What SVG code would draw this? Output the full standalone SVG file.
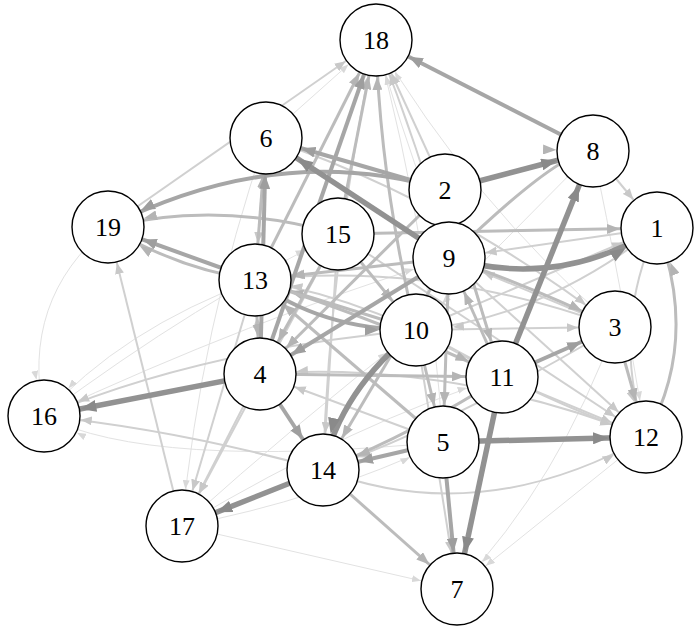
<svg xmlns="http://www.w3.org/2000/svg" width="700" height="631" viewBox="0 0 700 631">
<style>
.e1{fill:none;stroke:#e2e2e2;stroke-width:1;marker-end:url(#a1)}
.e2{fill:none;stroke:#d0d0d0;stroke-width:2;marker-end:url(#a2)}
.e3{fill:none;stroke:#bcbcbc;stroke-width:3;marker-end:url(#a3)}
.e4{fill:none;stroke:#a6a6a6;stroke-width:4;marker-end:url(#a4)}
.e5{fill:none;stroke:#929292;stroke-width:5.5;marker-end:url(#a5)}
.node circle{fill:#fff;stroke:#000;stroke-width:1.4}
.node text{font-family:"Liberation Serif","Times New Roman",serif;font-size:26px;fill:#000;text-anchor:middle}
</style>
<defs>
<marker id="a1" markerUnits="userSpaceOnUse" viewBox="0 0 9 7" markerWidth="9" markerHeight="7" refX="46" refY="3.5" orient="auto"><path d="M0,0 L9,3.5 L0,7 z" fill="#d8d8d8"/></marker>
<marker id="a2" markerUnits="userSpaceOnUse" viewBox="0 0 11 9" markerWidth="11" markerHeight="9" refX="48" refY="4.5" orient="auto"><path d="M0,0 L11,4.5 L0,9 z" fill="#c8c8c8"/></marker>
<marker id="a3" markerUnits="userSpaceOnUse" viewBox="0 0 13 10" markerWidth="13" markerHeight="10" refX="50" refY="5" orient="auto"><path d="M0,0 L13,5 L0,10 z" fill="#b4b4b4"/></marker>
<marker id="a4" markerUnits="userSpaceOnUse" viewBox="0 0 14 11" markerWidth="14" markerHeight="11" refX="51" refY="5.5" orient="auto"><path d="M0,0 L14,5.5 L0,11 z" fill="#9e9e9e"/></marker>
<marker id="a5" markerUnits="userSpaceOnUse" viewBox="0 0 16 12" markerWidth="16" markerHeight="12" refX="53" refY="6" orient="auto"><path d="M0,0 L16,6 L0,12 z" fill="#8a8a8a"/></marker>
</defs>
<g id="connectors">
<path class="e1" d="M266 138 L376 40"/>
<path class="e1" d="M502 377 Q420 200 376 40"/>
<path class="e1" d="M443 442 Q430 240 376 40"/>
<path class="e1" d="M615 327 Q470 200 376 40"/>
<path class="e1" d="M593 151 Q620 280 646 437"/>
<path class="e1" d="M443 442 Q150 470 44 416"/>
<path class="e1" d="M255 280 Q120 330 44 416"/>
<path class="e1" d="M108 227 Q20 300 44 416"/>
<path class="e1" d="M182 526 L457 589"/>
<path class="e1" d="M266 138 Q200 330 182 526"/>
<path class="e1" d="M646 437 L457 589"/>
<path class="e1" d="M44 416 Q200 300 338 234"/>
<path class="e1" d="M44 416 Q250 320 449 258"/>
<path class="e1" d="M182 526 Q300 420 416 330"/>
<path class="e1" d="M182 526 Q320 500 443 442"/>
<path class="e1" d="M615 327 Q560 480 457 589"/>
<path class="e1" d="M182 526 Q360 420 502 377"/>
<path class="e1" d="M593 151 L416 330"/>
<path class="e2" d="M108 227 L376 40"/>
<path class="e2" d="M449 258 Q420 150 376 40"/>
<path class="e2" d="M445 190 L376 40"/>
<path class="e2" d="M323 470 Q330 250 376 40"/>
<path class="e2" d="M182 526 L108 227"/>
<path class="e2" d="M416 330 Q200 350 44 416"/>
<path class="e2" d="M323 470 Q180 430 44 416"/>
<path class="e2" d="M255 280 L182 526"/>
<path class="e2" d="M260 374 L182 526"/>
<path class="e2" d="M338 234 L182 526"/>
<path class="e2" d="M266 138 L255 280"/>
<path class="e2" d="M260 374 L255 280"/>
<path class="e2" d="M593 151 L657 228"/>
<path class="e2" d="M657 228 Q610 330 646 437"/>
<path class="e2" d="M502 377 L646 437"/>
<path class="e2" d="M323 470 Q480 530 646 437"/>
<path class="e2" d="M416 330 L615 327"/>
<path class="e2" d="M416 330 L457 589"/>
<path class="e2" d="M416 330 L657 228"/>
<path class="e2" d="M502 377 L445 190"/>
<path class="e2" d="M657 228 L449 258"/>
<path class="e2" d="M338 234 L646 437"/>
<path class="e2" d="M449 258 L646 437"/>
<path class="e2" d="M615 327 L449 258"/>
<path class="e2" d="M338 234 L323 470"/>
<path class="e2" d="M502 377 Q380 300 255 280"/>
<path class="e2" d="M615 327 Q430 260 255 280"/>
<path class="e2" d="M646 437 Q450 360 260 374"/>
<path class="e2" d="M615 327 Q460 420 323 470"/>
<path class="e2" d="M657 228 Q540 320 416 330"/>
<path class="e2" d="M443 442 L260 374"/>
<path class="e2" d="M416 330 Q540 400 646 437"/>
<path class="e2" d="M266 138 Q450 200 615 327"/>
<path class="e3" d="M255 280 L376 40"/>
<path class="e3" d="M338 234 L376 40"/>
<path class="e3" d="M416 330 Q380 180 376 40"/>
<path class="e3" d="M338 234 Q220 200 108 227"/>
<path class="e3" d="M449 258 Q560 150 593 151"/>
<path class="e3" d="M449 258 Q540 290 615 327"/>
<path class="e3" d="M449 258 L255 280"/>
<path class="e3" d="M338 234 L657 228"/>
<path class="e3" d="M502 377 L449 258"/>
<path class="e3" d="M646 437 Q700 340 657 228"/>
<path class="e3" d="M615 327 L646 437"/>
<path class="e3" d="M323 470 L457 589"/>
<path class="e3" d="M260 374 L502 377"/>
<path class="e3" d="M255 280 L260 374"/>
<path class="e3" d="M416 330 L255 280"/>
<path class="e3" d="M416 330 L443 442"/>
<path class="e3" d="M255 280 L266 138"/>
<path class="e3" d="M338 234 L416 330"/>
<path class="e3" d="M449 258 L323 470"/>
<path class="e3" d="M445 190 L260 374"/>
<path class="e3" d="M255 280 Q380 320 502 377"/>
<path class="e3" d="M338 234 L260 374"/>
<path class="e3" d="M443 442 L255 280"/>
<path class="e3" d="M502 377 Q420 430 323 470"/>
<path class="e3" d="M449 258 L443 442"/>
<path class="e3" d="M445 190 L502 377"/>
<path class="e3" d="M255 280 Q180 270 108 227"/>
<path class="e4" d="M260 374 L376 40"/>
<path class="e4" d="M593 151 L376 40"/>
<path class="e4" d="M445 190 L266 138"/>
<path class="e4" d="M445 190 Q280 140 108 227"/>
<path class="e4" d="M255 280 L108 227"/>
<path class="e4" d="M502 377 L615 327"/>
<path class="e4" d="M443 442 L457 589"/>
<path class="e4" d="M443 442 L323 470"/>
<path class="e4" d="M260 374 L323 470"/>
<path class="e4" d="M260 374 L266 138"/>
<path class="e4" d="M449 258 L260 374"/>
<path class="e4" d="M255 280 Q320 330 416 330"/>
<path class="e5" d="M445 190 L593 151"/>
<path class="e5" d="M449 258 L266 138"/>
<path class="e5" d="M449 258 Q560 290 657 228"/>
<path class="e5" d="M502 377 L593 151"/>
<path class="e5" d="M502 377 L457 589"/>
<path class="e5" d="M443 442 L646 437"/>
<path class="e5" d="M323 470 L182 526"/>
<path class="e5" d="M260 374 L44 416"/>
<path class="e5" d="M416 330 Q340 390 323 470"/>
</g>
<g id="node-18" class="node"><circle cx="376" cy="40" r="36"/><text x="376" y="49">18</text></g>
<g id="node-6" class="node"><circle cx="266" cy="138" r="36"/><text x="266" y="147">6</text></g>
<g id="node-8" class="node"><circle cx="593" cy="151" r="36"/><text x="593" y="160">8</text></g>
<g id="node-2" class="node"><circle cx="445" cy="190" r="36"/><text x="445" y="199">2</text></g>
<g id="node-19" class="node"><circle cx="108" cy="227" r="36"/><text x="108" y="236">19</text></g>
<g id="node-1" class="node"><circle cx="657" cy="228" r="36"/><text x="657" y="237">1</text></g>
<g id="node-15" class="node"><circle cx="338" cy="234" r="36"/><text x="338" y="243">15</text></g>
<g id="node-9" class="node"><circle cx="449" cy="258" r="36"/><text x="449" y="267">9</text></g>
<g id="node-13" class="node"><circle cx="255" cy="280" r="36"/><text x="255" y="289">13</text></g>
<g id="node-10" class="node"><circle cx="416" cy="330" r="36"/><text x="416" y="339">10</text></g>
<g id="node-3" class="node"><circle cx="615" cy="327" r="36"/><text x="615" y="336">3</text></g>
<g id="node-4" class="node"><circle cx="260" cy="374" r="36"/><text x="260" y="383">4</text></g>
<g id="node-11" class="node"><circle cx="502" cy="377" r="36"/><text x="502" y="386">11</text></g>
<g id="node-16" class="node"><circle cx="44" cy="416" r="36"/><text x="44" y="425">16</text></g>
<g id="node-12" class="node"><circle cx="646" cy="437" r="36"/><text x="646" y="446">12</text></g>
<g id="node-5" class="node"><circle cx="443" cy="442" r="36"/><text x="443" y="451">5</text></g>
<g id="node-14" class="node"><circle cx="323" cy="470" r="36"/><text x="323" y="479">14</text></g>
<g id="node-17" class="node"><circle cx="182" cy="526" r="36"/><text x="182" y="535">17</text></g>
<g id="node-7" class="node"><circle cx="457" cy="589" r="36"/><text x="457" y="598">7</text></g>
</svg>
